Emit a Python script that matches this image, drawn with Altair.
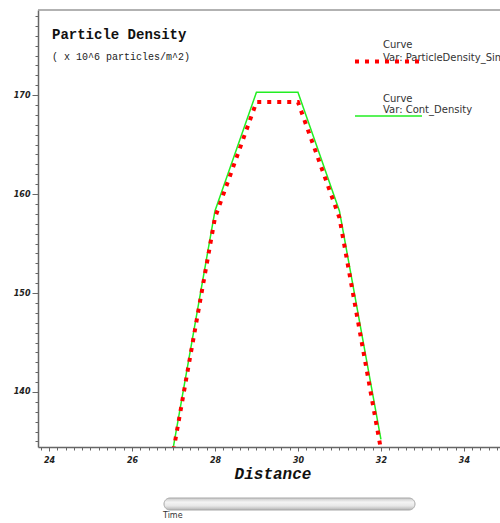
import altair as alt
import pandas as pd

# ---- data ----
distance = [27, 28, 29, 30, 31, 32]
particle_sim = [134.1, 157.6, 169.3, 169.3, 157.6, 134.2]
cont_density = [134.5, 158.3, 170.3, 170.3, 158.3, 135.2]

x_labels = [24, 26, 28, 30, 32, 34]
y_labels = [140, 150, 160, 170]

title_text = "Particle Density"
subtitle_text = "( x 10^6 particles/m^2)"
x_title = "Distance"
legend_curve = ["Curve", "Curve"]
legend_var = ["Var: ParticleDensity_Sim", "Var: Cont_Density"]
slider_label = "Time"

W, H = 462, 437
X_DOM = [23.735, 34.87]
Y_DOM = [134.44, 178.6]

df_sim = pd.DataFrame({"d": distance, "v": particle_sim})
df_cont = pd.DataFrame({"d": distance, "v": cont_density})

x_minor = [round(23.8 + 0.2 * i, 1) for i in range(56)]
y_minor = list(range(135, 179))

xscale = alt.Scale(domain=X_DOM, nice=False, zero=False)
yscale = alt.Scale(domain=Y_DOM, nice=False, zero=False)

x_axis = alt.Axis(
    values=x_minor,
    labelExpr="datum.value % 2 == 0 ? format(datum.value, 'd') : ''",
    tickSize={"condition": {"test": "datum.value % 2 == 0", "value": 4}, "value": 3},
    grid=False, title=None, labelOverlap=False,
    labelFont="DejaVu Sans", labelFontSize=8, labelFontStyle="italic",
    labelFontWeight="bold", labelColor="#222", labelPadding=5,
    domainColor="#666", domainWidth=1.5, tickColor="#666",
)
y_axis = alt.Axis(
    values=y_minor,
    labelExpr="datum.value % 10 == 0 ? datum.label : ''",
    tickSize={"condition": {"test": "datum.value % 10 == 0", "value": 6}, "value": 3},
    grid=False, title=None, labelOverlap=False,
    labelFont="DejaVu Sans", labelFontSize=8, labelFontStyle="italic",
    labelFontWeight="bold", labelColor="#222", labelPadding=2,
    domainColor="#666", domainWidth=1.5, tickColor="#666",
)

cont_line = alt.Chart(df_cont).mark_line(
    color="#22ee22", strokeWidth=1.5, clip=True
).encode(
    x=alt.X("d:Q", scale=xscale, axis=x_axis),
    y=alt.Y("v:Q", scale=yscale, axis=y_axis),
)

sim_line = alt.Chart(df_sim).mark_line(
    color="#ff0000", strokeWidth=4, strokeDash=[4, 6], strokeCap="butt", clip=True
).encode(
    x=alt.X("d:Q", scale=xscale, axis=x_axis),
    y=alt.Y("v:Q", scale=yscale, axis=y_axis),
)

one = pd.DataFrame({"k": [0]})

def txt(s, x, y, **kw):
    return alt.Chart(one).mark_text(text=s, align=kw.pop("align", "left"), baseline="middle", **kw).encode(
        x=alt.value(x), y=alt.value(y)
    )

top_border = alt.Chart(one).mark_rule(color="#999", strokeWidth=1.5).encode(
    x=alt.value(0), x2=alt.value(W + 2), y=alt.value(0)
)

title = txt(title_text, 14, 25, font="Liberation Mono", fontSize=14, fontWeight="bold", color="#111")
subtitle = txt(subtitle_text, 14, 47, font="Liberation Mono", fontSize=10, color="#222")
xtitle = txt(x_title, 235, 464, align="center", font="Liberation Mono", fontSize=16,
             fontWeight="bold", fontStyle="italic", color="#111")

leg_font = dict(font="DejaVu Sans", fontSize=10, color="#333")
leg1a = txt(legend_curve[0], 345, 35, **leg_font)
leg1b = txt(legend_var[0], 345, 47.5, **leg_font)
leg2a = txt(legend_curve[1], 345, 89, **leg_font)
leg2b = txt(legend_var[1], 345, 99.5, **leg_font)

leg1_line = alt.Chart(one).mark_rule(
    color="#ff0000", strokeWidth=4, strokeDash=[4, 6], strokeCap="butt"
).encode(x=alt.value(317), x2=alt.value(382), y=alt.value(51.5))
leg2_line = alt.Chart(one).mark_rule(color="#22ee22", strokeWidth=1.5).encode(
    x=alt.value(317), x2=alt.value(384), y=alt.value(106)
)

grad = alt.LinearGradient(
    gradient="linear", x1=0, x2=0, y1=0, y2=1,
    stops=[
        alt.GradientStop(color="#c8c8c8", offset=0),
        alt.GradientStop(color="#f4f4f4", offset=0.35),
        alt.GradientStop(color="#e8e8e8", offset=0.65),
        alt.GradientStop(color="#b4b4b4", offset=1),
    ],
)
slider = alt.Chart(one).mark_rect(
    fill=grad, stroke="#a8a8a8", strokeWidth=1, cornerRadius=6
).encode(x=alt.value(126), x2=alt.value(377), y=alt.value(488), y2=alt.value(500))
slider_txt = txt(slider_label, 125, 506, font="DejaVu Sans", fontSize=8, color="#333")

chart = alt.layer(
    cont_line, sim_line, top_border, title, subtitle, xtitle,
    leg1a, leg1b, leg1_line, leg2a, leg2b, leg2_line, slider, slider_txt,
).properties(
    width=W, height=H,
    autosize=alt.AutoSizeParams(type="none"),
    padding={"left": 38, "top": 10, "right": 0, "bottom": 76},
    background="white",
).configure_view(stroke=None)

chart.save("out.html", embed_options={"renderer": "svg", "actions": False})
